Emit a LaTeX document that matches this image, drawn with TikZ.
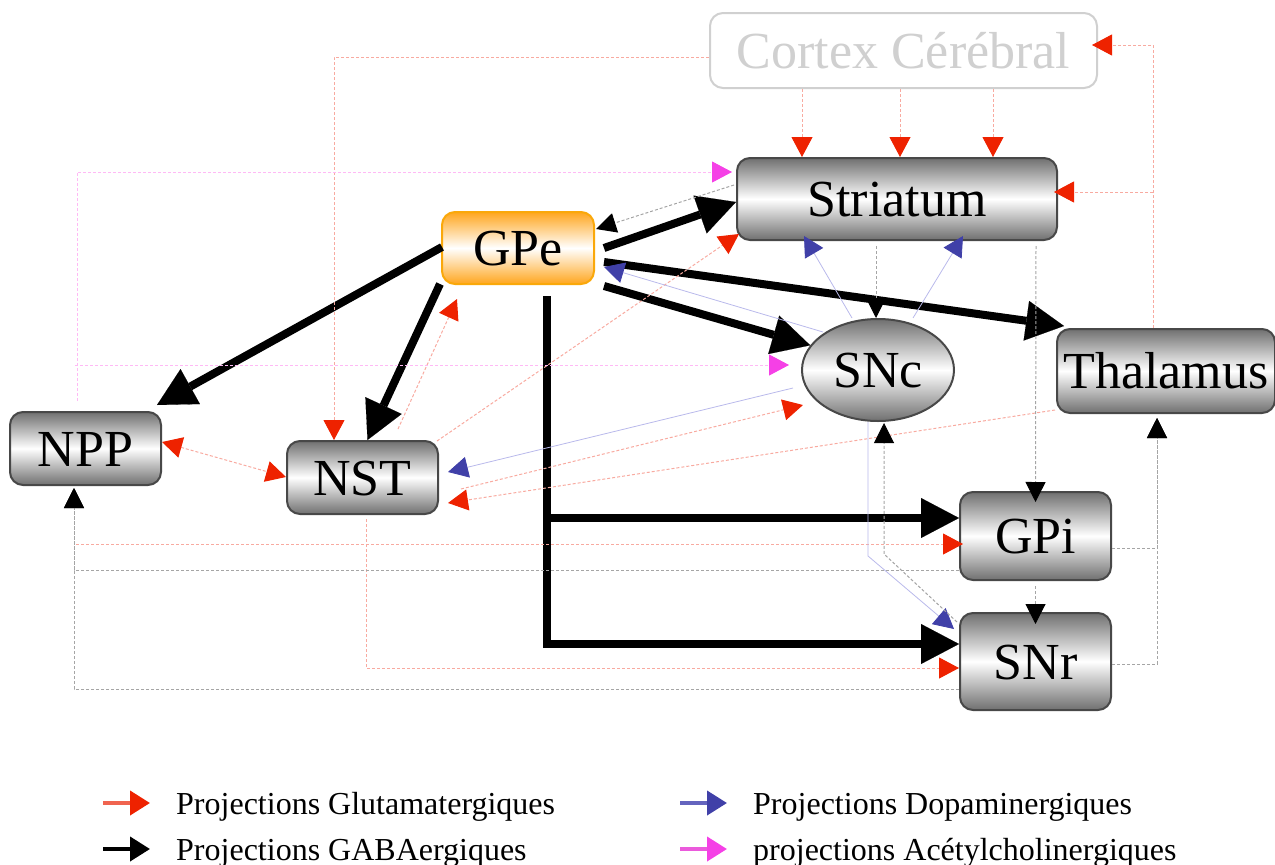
\documentclass[tikz,border=0pt]{standalone}
\usepackage{fontspec}
\setmainfont{Liberation Serif}
\usetikzlibrary{arrows.meta,shapes.geometric,calc}

\definecolor{redhead}{RGB}{238,34,0}
\definecolor{redline}{RGB}{248,170,160}
\definecolor{redleg}{RGB}{240,100,80}
\definecolor{bluehead}{RGB}{64,64,168}
\definecolor{blueline}{RGB}{185,185,235}
\definecolor{blueleg}{RGB}{100,100,190}
\definecolor{maghead}{RGB}{245,64,230}
\definecolor{pinkline}{RGB}{255,185,245}
\definecolor{magleg}{RGB}{235,90,220}
\definecolor{grayline}{RGB}{165,165,165}
\definecolor{nodegray}{RGB}{112,112,112}
\definecolor{nodeedge}{RGB}{72,72,72}
\definecolor{gpeorange}{RGB}{255,166,30}
\definecolor{gpeedge}{RGB}{250,168,10}
\definecolor{cortexgray}{RGB}{208,208,208}

\tikzset{
  RedTip/.tip={Triangle[length=20pt,width=21pt,color=redhead]},
  BlueTip/.tip={Triangle[length=20pt,width=21pt,color=bluehead]},
  MagTip/.tip={Triangle[length=20pt,width=21pt,color=maghead]},
  BlackTip/.tip={Triangle[length=20pt,width=20pt,color=black]},
  BigTip/.tip={Triangle[length=38pt,width=40pt,line width=0.1pt]},
}

\begin{document}
\begin{tikzpicture}[x=1pt,y=-1pt,
  bigfont/.style={font=\fontsize{52}{60}\selectfont},
  box/.style={draw=nodeedge, line width=2pt, rounded corners=13pt,
    top color=nodegray, bottom color=nodegray, middle color=white,
    inner sep=0pt, text height=35pt, text depth=0pt, bigfont},
  gpebox/.style={draw=gpeedge, line width=2pt, rounded corners=13pt,
    top color=gpeorange, bottom color=gpeorange, middle color=white,
    inner sep=0pt, text height=35pt, text depth=0pt, bigfont},
  ellbox/.style={ellipse, draw=nodeedge, line width=2pt,
    top color=nodegray, bottom color=nodegray, middle color=white,
    inner sep=0pt, text height=35pt, text depth=0pt, bigfont},
  cortexbox/.style={draw=cortexgray, line width=2pt, rounded corners=13pt,
    fill=white, text=cortexgray, inner sep=0pt, text height=35pt, text depth=0pt, bigfont},
  gaba/.style={line width=8pt, -BigTip},
  proj/.style={line width=1pt, dash pattern=on 3pt off 2pt},
  glu/.style={proj, draw=redline, -RedTip},
  dopa/.style={line width=0.8pt, draw=blueline, -BlueTip},
  ach/.style={proj, draw=pinkline, -MagTip},
  gabathin/.style={proj, draw=grayline, -BlackTip},
  legtext/.style={font=\fontsize{32}{36}\selectfont, anchor=base west, inner sep=0pt},
  legarrow/.style={line width=4pt},
]
\useasboundingbox (0,0) rectangle (1275,865);

% nodes
\node[cortexbox, minimum width=387pt, minimum height=75pt] (cortex) at (903.5,50.5) {Cortex Cérébral};
\node[box, minimum width=320pt, minimum height=82pt] (stri) at (897,199) {Striatum};
\node[gpebox, minimum width=152pt, minimum height=72pt] (gpe) at (518,248) {GPe};
\node[ellbox, minimum width=152pt, minimum height=102pt] (snc) at (878,370) {SNc};
\node[box, minimum width=218pt, minimum height=84pt] (thal) at (1166,371) {Thalamus};
\node[box, minimum width=151pt, minimum height=73pt] (npp) at (85.5,448.5) {NPP};
\node[box, minimum width=151pt, minimum height=73pt] (nst) at (362.5,477.5) {NST};
\node[box, minimum width=151pt, minimum height=88pt] (gpi) at (1035.5,536) {GPi};
\node[box, minimum width=151pt, minimum height=97pt] (snr) at (1035.5,661.5) {SNr};

% thick GABA projections
\draw[gaba] ($(gpe.west)+(1,-1)$) -- ($(npp.north east)+(-5,-6)$);
\draw[gaba] ($(gpe.south west)+(-1,-1)$) -- ($(nst.north)+(5,0)$);
\draw[gaba] ($(gpe.east)+(9,0)$) -- ($(stri.west)+(0,3)$);
\draw[gaba] ($(gpe.south east)+(9,1)$) -- (snc.160);
\draw[gaba] ($(gpe.east)+(9,14)$) -- ($(thal.north west)+(8,-2)$);
\coordinate (bus) at ($(gpe.south)+(29,11)$);
\coordinate (gpiin) at ($(gpi.west)+(0,-18)$);
\draw[gaba, line join=miter] (bus) |- ($(snr.west)+(0,-17.5)$);
\draw[gaba] (bus |- gpiin) -- (gpiin);

% glutamatergic
\draw[glu] ($(cortex.south)+(-101.5,0)$) -- ($(stri.north)+(-95,0)$);
\draw[glu] ($(cortex.south)+(-3.5,0)$) -- ($(stri.north)+(3,0)$);
\draw[glu] ($(cortex.south)+(89.5,0)$) -- ($(stri.north)+(96,0)$);
\draw[glu] ($(cortex.west)+(0,6.5)$) -| ($(nst.north)+(-28.5,0)$);
\coordinate (tv) at ($(thal.north)+(-13,0)$);
\draw[glu] (tv) |- ($(cortex.east)+(-6,-5.5)$);
\coordinate (sin) at ($(stri.east)+(-4,-7)$);
\draw[glu] (tv |- sin) -- (sin);
\draw[glu] ($(thal.south west)+(-1,-4)$) -- ($(nst.east)+(9,25.5)$);
\draw[glu] ($(nst.east)+(22,11.5)$) -- ($(snc.center)+(-75,35)$);
\draw[glu] ($(nst.north)+(35.5,-11)$) -- ($(gpe.south west)+(16,14)$);
\draw[glu] ($(nst.north east)+(-2,1)$) -- ($(stri.south west)+(3,-7)$);
\draw[glu, RedTip-RedTip] ($(npp.east)+(0,-6.5)$) -- ($(nst.west)+(0,-0.5)$);
\draw[glu] ($(nst.south)+(3.5,4)$) |- ($(snr.west)+(0,6.5)$);
\coordinate (rs) at ($(npp.south west)+(67,58)$);
\draw[glu] (rs) -- ($(rs -| gpi.west)+(4,0)$);

% dopaminergic
\draw[dopa] ($(snc.center)+(-85,18)$) -- ($(nst.east)+(9,-5.5)$);
\draw[dopa] ($(snc.center)+(-55,-38)$) -- ($(gpe.east)+(9,19)$);
\draw[dopa] ($(snc.center)+(-26,-52)$) -- ($(stri.south)+(-93,-5)$);
\draw[dopa] ($(snc.center)+(35,-52)$) -- ($(stri.south)+(66,-5)$);
\draw[dopa] ($(snc.south)+(-10,0)$) -- ($(snc.south)+(-10,134)$) -- ($(snr.north west)+(-5,17)$);

% thin GABA
\draw[gabathin] ($(stri.west)+(-2,-14)$) -- ($(gpe.north east)+(1,18)$);
\draw[gabathin] ($(stri.south)+(-21,5)$) -- ($(snc.north)+(-2,0)$);
\draw[gabathin] ($(stri.south)+(139,5)$) -- ($(gpi.north)+(0,11)$);
\draw[gabathin] ($(gpi.south)+(0,5)$) -- ($(snr.north)+(0,12)$);
\coordinate (tb) at ($(thal.south)+(-9,4)$);
\draw[gabathin] ($(gpi.east)+(0,12)$) -| (tb);
\draw[gabathin] ($(snr.east)+(0,2.5)$) -| (tb);
\coordinate (nb) at ($(npp.south)+(-11.5,2)$);
\draw[gabathin] ($(snr.west)+(0,27.5)$) -| (nb);
\draw[gabathin] ($(gpi.west)+(0,34)$) -| (nb);
\draw[gabathin] ($(snr.north west)+(-2,10)$) -- ($(snc.south)+(6,132)$) -- ($(snc.south)+(6,1)$);

% acetylcholinergic
\coordinate (av) at ($(npp.north)+(-8.5,-10)$);
\draw[ach] (av) |- ($(stri.west)+(-4,-27)$);
\coordinate (sncach) at ($(snc.west)+(-12,-5)$);
\draw[ach] ($(av |- sncach)+(-2,0)$) -- (sncach);

% legend
\coordinate (l1a) at (103,803); \coordinate (l1b) at (150,803);
\coordinate (l2a) at (103,849); \coordinate (l2b) at (150,849);
\coordinate (l3a) at (680,803); \coordinate (l3b) at (727,803);
\coordinate (l4a) at (680,849); \coordinate (l4b) at (727,849);
\draw[legarrow, draw=redleg, -{Triangle[length=20pt,width=24pt,color=redhead]}] (l1a) -- (l1b);
\draw[legarrow, draw=black, -{Triangle[length=20pt,width=24pt,color=black]}] (l2a) -- (l2b);
\draw[legarrow, draw=blueleg, -{Triangle[length=20pt,width=24pt,color=bluehead]}] (l3a) -- (l3b);
\draw[legarrow, draw=magleg, -{Triangle[length=20pt,width=24pt,color=maghead]}] (l4a) -- (l4b);
\node[legtext] (t1) at (176,814) {Projections Glutamatergiques};
\node[legtext] (t2) at (176,860) {Projections GABAergiques};
\node[legtext] (t3) at (753,814) {Projections Dopaminergiques};
\node[legtext] (t4) at (753,860) {projections Acétylcholinergiques};
\end{tikzpicture}
\end{document}
